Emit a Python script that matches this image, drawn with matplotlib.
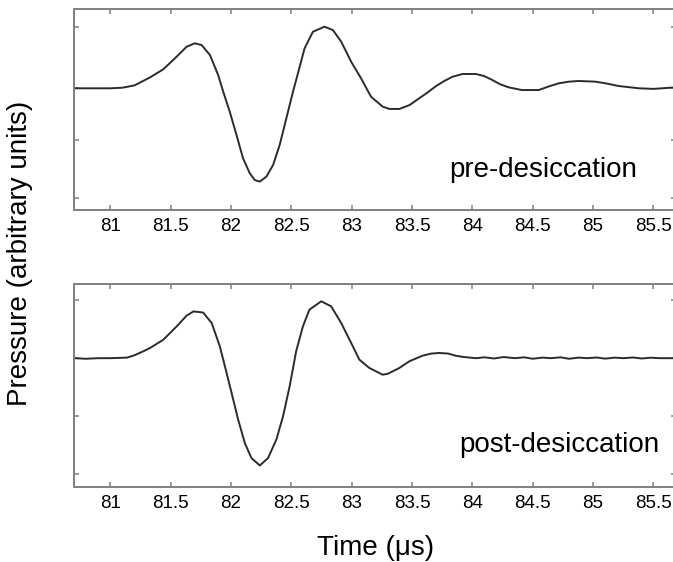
import matplotlib
matplotlib.use("Agg")
import matplotlib.pyplot as plt

plt.rcParams['font.family'] = ['Liberation Sans', 'DejaVu Sans']

# waveforms (time in us, pressure in arbitrary units)
t_pre = [80.70, 80.85, 81.00, 81.10, 81.20, 81.275, 81.33, 81.44, 81.55, 81.633,
         81.70, 81.757, 81.826, 81.894, 81.936, 81.99, 82.046, 82.10, 82.156, 82.197,
         82.239, 82.294, 82.349, 82.404, 82.459, 82.514, 82.555, 82.61, 82.679, 82.775,
         82.844, 82.913, 82.996, 83.078, 83.16, 83.257, 83.312, 83.395, 83.48, 83.56,
         83.63, 83.70, 83.77, 83.835, 83.918, 84.03, 84.10, 84.165, 84.23, 84.30,
         84.41, 84.55, 84.63, 84.716, 84.80, 84.88, 85.02, 85.12, 85.21, 85.38,
         85.50, 85.69]
p_pre = [0.0, 0.0, 0.0, 0.01, 0.05, 0.13, 0.19, 0.33, 0.548, 0.721,
         0.78, 0.75, 0.577, 0.23, -0.059, -0.405, -0.81, -1.213, -1.473, -1.59,
         -1.618, -1.53, -1.33, -0.98, -0.52, -0.059, 0.26, 0.693, 0.98, 1.068,
         1.01, 0.81, 0.46, 0.173, -0.145, -0.318, -0.358, -0.358, -0.29, -0.173,
         -0.07, 0.04, 0.13, 0.20, 0.248, 0.248, 0.21, 0.144, 0.07, 0.017,
         -0.03, -0.03, 0.03, 0.087, 0.115, 0.127, 0.115, 0.08, 0.04, 0.0,
         -0.01, 0.017]

t_post = [80.70, 80.80, 80.90, 81.00, 81.14, 81.20, 81.275, 81.33, 81.44, 81.55,
          81.633, 81.69, 81.77, 81.84, 81.908, 81.95, 82.005, 82.06, 82.115, 82.17,
          82.239, 82.307, 82.376, 82.431, 82.486, 82.54, 82.596, 82.65, 82.748, 82.83,
          82.913, 82.996, 83.064, 83.147, 83.257, 83.30, 83.395, 83.477, 83.587, 83.66,
          83.725, 83.80, 83.86, 83.93, 84.03, 84.10, 84.18, 84.26, 84.35, 84.43,
          84.50, 84.58, 84.65, 84.73, 84.80, 84.88, 84.95, 85.03, 85.10, 85.18,
          85.25, 85.33, 85.40, 85.48, 85.55, 85.69]
p_post = [0.0, -0.01, 0.0, 0.0, 0.01, 0.05, 0.12, 0.177, 0.32, 0.55,
          0.737, 0.81, 0.79, 0.61, 0.205, -0.14, -0.60, -1.066, -1.47, -1.73,
          -1.858, -1.73, -1.41, -1.01, -0.49, 0.118, 0.55, 0.84, 0.985, 0.898,
          0.61, 0.263, -0.026, -0.17, -0.286, -0.27, -0.17, -0.055, 0.043, 0.08,
          0.09, 0.08, 0.043, 0.02, 0.0, 0.015, -0.005, 0.02, 0.0, 0.015,
          -0.01, 0.01, 0.0, 0.015, -0.01, 0.01, 0.0, 0.012, -0.008, 0.01,
          0.0, 0.012, -0.005, 0.008, 0.0, 0.0]

x_ticks = [81, 81.5, 82, 82.5, 83, 83.5, 84, 84.5, 85, 85.5]
x_tick_labels = ['81', '81.5', '82', '82.5', '83', '83.5', '84', '84.5', '85', '85.5']
y_ticks_pre = [1.07, 0, -0.9, -1.9]
y_ticks_post = [1.0, 0, -1.0, -2.0]

SPINE = '#808080'
LINE = '#2b2b2b'

fig = plt.figure(figsize=(6.73, 5.62), dpi=100)
ax1 = fig.add_axes([0.110, 0.6263, 0.895, 0.3572])
ax2 = fig.add_axes([0.110, 0.1335, 0.895, 0.3607])

panels = [
    (ax1, t_pre, p_pre, y_ticks_pre, (-2.11, 1.37), 'pre-desiccation', 0.623, 0.164),
    (ax2, t_post, p_post, y_ticks_post, (-2.23, 1.28), 'post-desiccation', 0.640, 0.173),
]

for ax, t, p, yt, ylim, label, lx, ly in panels:
    ax.plot(t, p, color=LINE, lw=1.4)
    ax.set_xlim(80.7, 85.69)
    ax.set_ylim(*ylim)
    ax.set_xticks(x_ticks)
    ax.set_xticklabels(x_tick_labels, fontsize=13.5)
    ax.set_yticks(yt)
    ax.tick_params(direction='in', top=True, right=True, labelleft=False,
                   length=3.8, width=1.1, color=SPINE, pad=5.5)
    for s in ax.spines.values():
        s.set_color(SPINE)
        s.set_linewidth(1.4)
    ax.text(lx, ly, label, transform=ax.transAxes, fontsize=20,
            ha='left', va='baseline', color='black')

fig.text(20 / 673, 1 - 253 / 562, 'Pressure (arbitrary units)', rotation=90,
         ha='center', va='center', fontsize=20)
fig.text(376 / 673, 1 - 548 / 562, 'Time (\u03bcs)', ha='center', va='center',
         fontsize=20)

fig.savefig('out.png', dpi=100)
